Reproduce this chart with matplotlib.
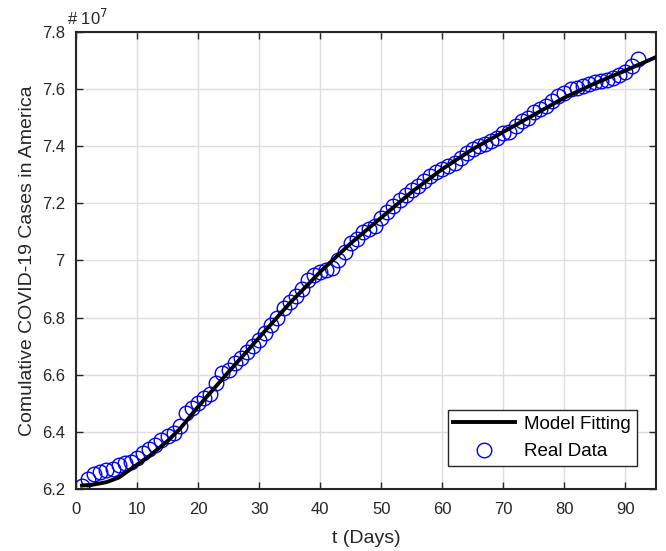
import matplotlib.pyplot as plt
from matplotlib.ticker import FormatStrFormatter
import numpy as np

plt.rcParams['font.family'] = ['Liberation Sans', 'DejaVu Sans']

# real data, cumulative cases in units of 1e7
days = np.arange(1, 93)
cases = [6.210, 6.235, 6.253, 6.260, 6.267, 6.270, 6.284, 6.290, 6.295, 6.310,
         6.326, 6.340, 6.354, 6.372, 6.386, 6.396, 6.420, 6.467, 6.484, 6.500,
         6.520, 6.533, 6.570, 6.607, 6.618, 6.642, 6.660, 6.680, 6.700, 6.720,
         6.747, 6.775, 6.800, 6.835, 6.856, 6.877, 6.900, 6.930, 6.950, 6.960,
         6.968, 6.975, 7.000, 7.030, 7.060, 7.074, 7.100, 7.110, 7.120, 7.150,
         7.170, 7.190, 7.210, 7.230, 7.245, 7.260, 7.277, 7.295, 7.310, 7.320,
         7.330, 7.340, 7.360, 7.375, 7.390, 7.400, 7.407, 7.417, 7.430, 7.445,
         7.450, 7.470, 7.490, 7.500, 7.520, 7.530, 7.540, 7.560, 7.575, 7.585,
         7.600, 7.604, 7.610, 7.618, 7.625, 7.628, 7.632, 7.640, 7.650, 7.660,
         7.680, 7.705]

# model fitting curve
fit_days = [1, 3, 5, 7, 10, 12, 15, 17, 20, 25, 30, 35, 40, 45, 50, 55, 60,
            65, 70, 75, 80, 85, 90, 95]
fit_vals = [6.212, 6.216, 6.224, 6.240, 6.285, 6.315, 6.368, 6.410, 6.488,
            6.610, 6.730, 6.850, 6.960, 7.060, 7.150, 7.240, 7.320, 7.390,
            7.450, 7.510, 7.570, 7.620, 7.665, 7.712]

fig = plt.figure(figsize=(6.66, 5.51), dpi=100)
ax = fig.add_axes([0.114, 0.1125, 0.871, 0.8295])

ax.plot(fit_days, fit_vals, '-', color='k', lw=2.8, label='Model Fitting', zorder=3)
ax.plot(days, cases, 'o', mfc='none', mec='#0000ff', ms=10.5, mew=1.0,
        label='Real Data', zorder=2)

ax.set_xlim(0, 95)
ax.set_ylim(6.2, 7.8)
ax.set_xticks(np.arange(0, 91, 10))
ax.set_yticks(np.arange(6.2, 7.81, 0.2))
ax.yaxis.set_major_formatter(FormatStrFormatter('%g'))
ax.grid(True, color='#dedede', lw=1.0)
ax.set_axisbelow(True)
ax.tick_params(direction='in', top=True, right=True, length=5, width=1,
               labelsize=12, colors='#262626')
ax.tick_params(axis='x', pad=9)
ax.tick_params(axis='y', pad=8)
for s in ax.spines.values():
    s.set_color('#262626')
    s.set_linewidth(1.5)

ax.set_xlabel('t (Days)', fontsize=14, color='#262626', labelpad=10)
ax.set_ylabel('Comulative COVID-19 Cases in America', fontsize=14,
              color='#262626', labelpad=4)
ax.text(-0.016, 1.008, r'# 10$^{7}$', transform=ax.transAxes, fontsize=12,
        color='#262626', va='bottom', ha='left')

leg = ax.legend(loc='lower right', fontsize=13.5, fancybox=False, framealpha=1,
                edgecolor='#262626', borderpad=0.3, handlelength=3.3,
                handletextpad=0.5, labelspacing=0.55,
                bbox_to_anchor=(0.983, 0.03))
leg.get_frame().set_linewidth(1.0)

fig.savefig('out.png', dpi=100)
